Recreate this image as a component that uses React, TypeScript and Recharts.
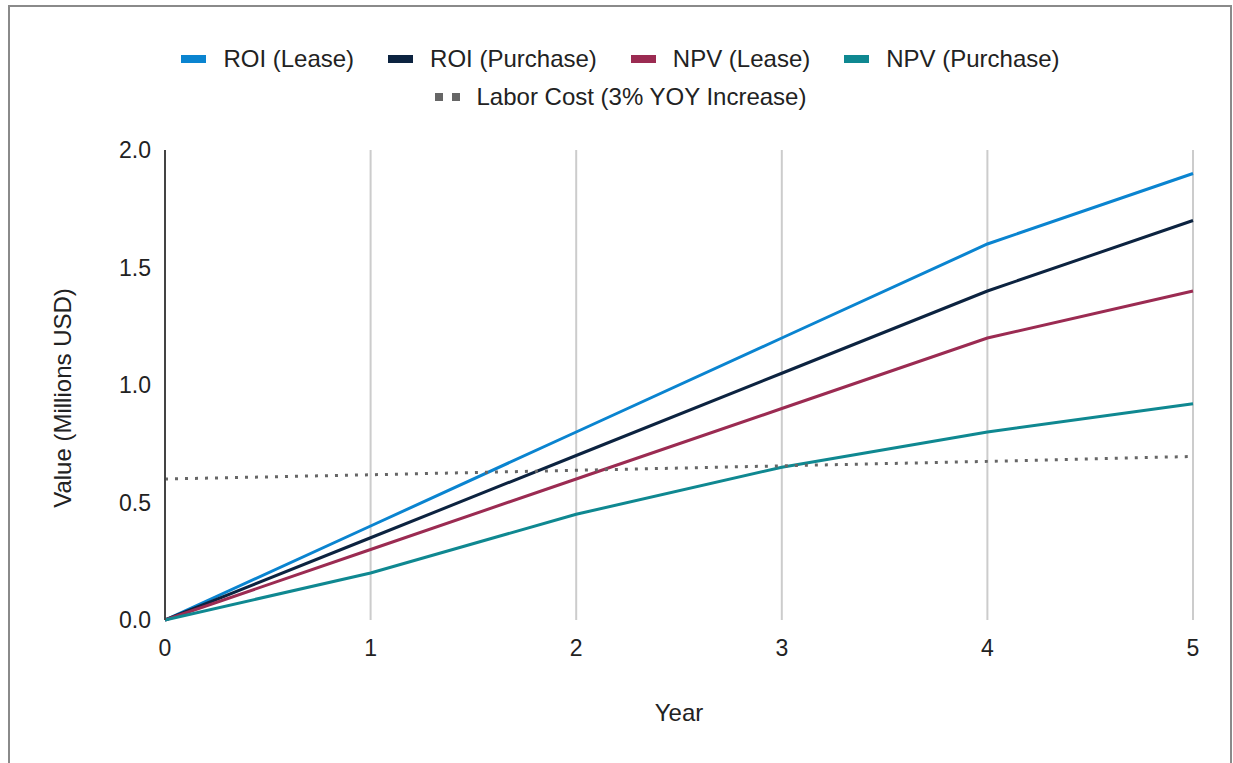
import { LineChart, Line, XAxis, YAxis, CartesianGrid, Legend } from 'recharts';

const years = [0, 1, 2, 3, 4, 5];
const roiLease = [0, 0.4, 0.8, 1.2, 1.6, 1.9];
const roiPurchase = [0, 0.35, 0.7, 1.05, 1.4, 1.7];
const npvLease = [0, 0.3, 0.6, 0.9, 1.2, 1.4];
const npvPurchase = [0, 0.2, 0.45, 0.65, 0.8, 0.92];
const laborCost = [0.6, 0.618, 0.637, 0.656, 0.675, 0.696];

const yTicks = [0, 0.5, 1, 1.5, 2];

const series = [
  { key: 'roiLease', name: 'ROI (Lease)', color: '#0a84d0' },
  { key: 'roiPurchase', name: 'ROI (Purchase)', color: '#0c2340' },
  { key: 'npvLease', name: 'NPV (Lease)', color: '#9b2b52' },
  { key: 'npvPurchase', name: 'NPV (Purchase)', color: '#0f8891' },
];

const FONT = '"Liberation Sans", Arial, sans-serif';

const chartData = years.map((year, i) => ({
  year,
  roiLease: roiLease[i],
  roiPurchase: roiPurchase[i],
  npvLease: npvLease[i],
  npvPurchase: npvPurchase[i],
  laborCost: laborCost[i],
}));

function LegendBox() {
  const itemText = { fontSize: 24, color: '#222', whiteSpace: 'nowrap' as const };
  return (
    <div style={{ fontFamily: FONT, paddingLeft: 8 }}>
      <div style={{ display: 'flex', justifyContent: 'center', alignItems: 'center', height: 38 }}>
        {series.map((s) => (
          <div key={s.key} style={{ display: 'flex', alignItems: 'center', margin: '0 17px' }}>
            <span style={{ width: 25, height: 8, background: s.color, marginRight: 17 }} />
            <span style={itemText}>{s.name}</span>
          </div>
        ))}
      </div>
      <div style={{ display: 'flex', justifyContent: 'center', alignItems: 'center', height: 38 }}>
        <span style={{ width: 8, height: 8, background: '#666', marginRight: 9 }} />
        <span style={{ width: 8, height: 8, background: '#666', marginRight: 17 }} />
        <span style={itemText}>Labor Cost (3% YOY Increase)</span>
      </div>
    </div>
  );
}

export default function App() {
  return (
    <div style={{ position: 'absolute', left: 0, top: 0, width: 1233, height: 763, overflow: 'hidden' }}>
      <div style={{ position: 'absolute', left: 0, top: 0 }}>
        <LineChart width={1233} height={763} data={chartData} margin={{ top: 70, right: 40, bottom: 43, left: 0 }}>
          <Legend
            verticalAlign="top"
            height={80}
            content={() => <LegendBox />}
            wrapperStyle={{ top: 40, left: 0, width: 1233 }}
          />
          <CartesianGrid horizontal={false} stroke="#cccccc" strokeWidth={2} />
          <XAxis
            dataKey="year"
            type="number"
            domain={[0, 5]}
            ticks={years}
            axisLine={false}
            tickLine={false}
            tickSize={0}
            tickMargin={20}
            height={100}
            tick={{ fontSize: 23, fill: '#222', fontFamily: FONT }}
            label={{
              content: ({ viewBox }: any) => (
                <text x={viewBox.x + viewBox.width / 2} y={viewBox.y + 101} textAnchor="middle" fontSize={24} fill="#222" fontFamily={FONT}>
                  Year
                </text>
              ),
            }}
          />
          <YAxis
            type="number"
            domain={[0, 2]}
            ticks={yTicks}
            width={165}
            axisLine={{ stroke: '#444', strokeWidth: 2 }}
            tickLine={false}
            tickSize={0}
            tickMargin={14}
            tickFormatter={(v: number) => v.toFixed(1)}
            tick={{ fontSize: 23, fill: '#222', fontFamily: FONT }}
            label={{
              content: ({ viewBox }: any) => {
                const cx = viewBox.x + 62;
                const cy = viewBox.y + viewBox.height / 2 + 13;
                return (
                  <text x={cx} y={cy} transform={`rotate(-90 ${cx} ${cy})`} textAnchor="middle" dominantBaseline="central" fontSize={24} fill="#222" fontFamily={FONT}>
                    Value (Millions USD)
                  </text>
                );
              },
            }}
          />
          {series.map((s) => (
            <Line
              key={s.key}
              type="linear"
              dataKey={s.key}
              name={s.name}
              stroke={s.color}
              strokeWidth={3}
              dot={false}
              isAnimationActive={false}
            />
          ))}
          <Line
            type="linear"
            dataKey="laborCost"
            name="Labor Cost (3% YOY Increase)"
            stroke="#666"
            strokeWidth={3}
            strokeDasharray="3 7"
            dot={false}
            isAnimationActive={false}
          />
        </LineChart>
      </div>
      {/* outer frame, bottom edge runs off the page */}
      <div
        style={{
          position: 'absolute',
          left: 8,
          top: 5,
          width: 1224,
          height: 770,
          border: '2px solid #8a8a8a',
          boxSizing: 'border-box',
          pointerEvents: 'none',
        }}
      />
    </div>
  );
}
